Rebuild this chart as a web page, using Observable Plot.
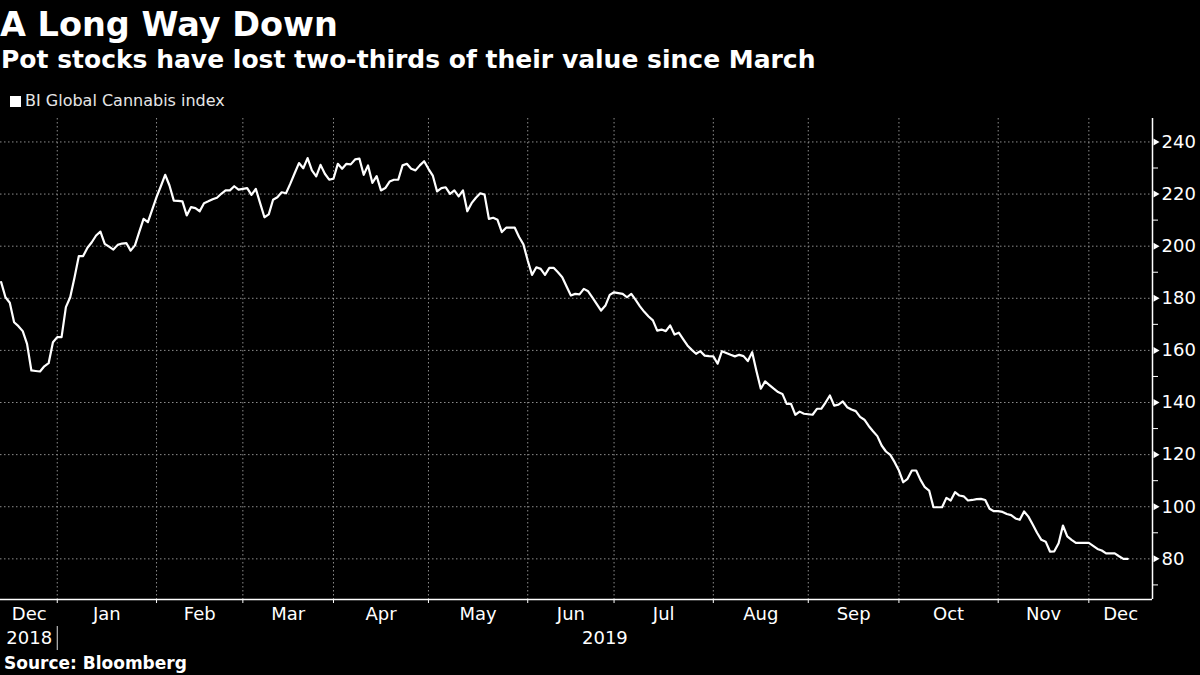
<!DOCTYPE html>
<html>
<head>
<meta charset="utf-8">
<script src="https://cdn.jsdelivr.net/npm/d3@7"></script>
<script src="https://cdn.jsdelivr.net/npm/@observablehq/plot@0.6"></script>
<style>
  html, body { margin: 0; padding: 0; background: #000; }
  #wrap { position: relative; width: 1200px; height: 675px; overflow: hidden; background: #000; color: #fff; font-family: "DejaVu Sans", sans-serif; }
  #title { position: absolute; left: 0px; top: 8px; font-size: 33.5px; line-height: 33.5px; font-weight: 700; white-space: nowrap; }
  #subtitle { position: absolute; left: 1px; top: 47px; font-size: 25px; line-height: 25px; font-weight: 700; white-space: nowrap; }
  #legend { position: absolute; left: 10px; top: 93px; font-size: 16px; line-height: 16px; color: #e6e6e6; white-space: nowrap; }
  #legend .sw { display: inline-block; width: 11px; height: 11px; background: #fff; margin-right: 4px; vertical-align: -1px; }
  #chart { position: absolute; left: 0; top: 112px; }
  #source { position: absolute; left: 4px; top: 655px; font-size: 17px; line-height: 17px; font-weight: 700; white-space: nowrap; }
</style>
</head>
<body>
<div id="wrap">
  <div id="title">A Long Way Down</div>
  <div id="subtitle">Pot stocks have lost two-thirds of their value since March</div>
  <div id="legend"><span class="sw"></span><span id="legendText"></span></div>
  <div id="chart"></div>
  <div id="source">Source: Bloomberg</div>
</div>
<script>
// ---- data ----
const startDate = "2018-12-13";            // first trading session shown
const seriesName = "BI Global Cannabis index";
// index level, one value per trading session (weekdays) from startDate
const values = [
  186.2, 180.4, 178.3, 170.8, 169.3, 167.4, 162.5, 152.3, 152.1, 151.9,
  153.9, 155.1, 163.1, 165.1, 165.1, 176.6, 180.4, 188.0, 196.2, 196.2,
  199.4, 201.5, 204.1, 205.6, 200.9, 199.8, 198.7, 200.5, 201.0, 201.2,
  198.3, 200.3, 205.5, 210.5, 209.2, 214.0, 218.8, 223.0, 227.4, 223.3,
  217.5, 217.4, 217.2, 211.8, 215.0, 214.6, 213.4, 216.5, 217.2, 218.0,
  218.6, 220.1, 221.4, 221.4, 223.0, 221.7, 222.0, 222.3, 219.7, 222.0,
  216.5, 211.1, 212.2, 217.8, 218.8, 220.7, 220.3, 224.0, 228.0, 231.9,
  229.9, 233.8, 229.1, 226.8, 231.2, 227.8, 225.5, 225.9, 231.6, 229.7,
  231.6, 231.4, 233.3, 233.6, 227.4, 231.0, 224.3, 226.9, 221.4, 222.3,
  224.8, 225.5, 225.5, 231.0, 231.6, 229.7, 229.1, 231.0, 232.6, 229.7,
  227.1, 221.0, 222.3, 222.6, 220.1, 221.4, 219.1, 221.4, 213.4, 216.5,
  218.6, 220.3, 219.8, 210.5, 210.9, 210.1, 205.4, 207.1, 207.1, 207.1,
  203.5, 200.7, 194.5, 189.0, 191.9, 191.3, 189.0, 191.7, 191.7, 190.0,
  188.1, 184.5, 181.1, 181.7, 181.5, 183.6, 182.7, 180.3, 177.8, 175.3,
  177.2, 181.3, 182.3, 182.0, 181.7, 180.4, 181.7, 179.4, 176.9, 174.8,
  173.0, 171.5, 167.6, 168.0, 167.4, 169.6, 166.1, 166.8, 164.3, 161.9,
  160.2, 158.7, 159.7, 158.0, 157.8, 157.7, 154.9, 159.7, 159.0, 158.3,
  157.7, 158.3, 157.8, 155.9, 159.3, 152.0, 145.3, 148.1, 146.7, 145.3,
  144.0, 143.3, 139.5, 139.5, 135.3, 136.5, 135.7, 135.5, 135.3, 137.6,
  137.6, 140.0, 142.7, 138.8, 139.2, 140.4, 138.2, 137.3, 136.7, 134.5,
  133.4, 131.0, 129.0, 127.1, 123.5, 121.2, 119.9, 117.1, 113.9, 109.4,
  110.7, 113.9, 113.9, 110.3, 107.5, 106.2, 99.8, 99.8, 99.8, 103.4,
  102.4, 105.6, 104.3, 104.0, 102.4, 102.6, 102.9, 103.0, 102.6, 99.2,
  98.3, 98.3, 98.0, 97.2, 96.8, 95.5, 95.0, 98.2, 96.2, 93.2,
  90.0, 87.3, 86.6, 82.8, 82.9, 86.0, 92.8, 88.6, 87.3, 86.1,
  86.1, 86.1, 86.1, 85.0, 83.8, 83.2, 82.1, 82.1, 82.1, 81.0,
  80.0, 80.0
];
const monthNames = ["Jan","Feb","Mar","Apr","May","Jun","Jul","Aug","Sep","Oct","Nov","Dec"];
const yTicks = [80, 100, 120, 140, 160, 180, 200, 220, 240];
const yMinorTicks = [70, 90, 110, 130, 150, 170, 190, 210, 230];
const yDomain = [64.4, 249];
const xEnd = 266.75;   // axis extends a few sessions past the last close

// ---- derive trading-session dates (weekdays) ----
const parse = d3.utcParse("%Y-%m-%d");
let cur = parse(startDate);
const data = values.map((v, i) => {
  const row = {i, date: new Date(cur), value: v};
  do { cur = d3.utcDay.offset(cur, 1); } while (cur.getUTCDay() === 0 || cur.getUTCDay() === 6);
  return row;
});

// month boundaries (first session of each month)
const monthStarts = [];
for (let k = 1; k < data.length; k++) {
  if (data[k].date.getUTCMonth() !== data[k - 1].date.getUTCMonth()) monthStarts.push(k);
}
const bounds = [0, ...monthStarts, xEnd];
const monthSegs = [];
for (let k = 0; k < bounds.length - 1; k++) {
  const d = data[Math.floor(bounds[k])].date;
  monthSegs.push({start: bounds[k], end: bounds[k + 1], label: monthNames[d.getUTCMonth()]});
}
// year segments
const yearStart = monthStarts.find(k => data[k].date.getUTCFullYear() !== data[0].date.getUTCFullYear());
const yearSegs = [
  {start: 0, end: yearStart, label: String(data[0].date.getUTCFullYear())},
  {start: yearStart, end: xEnd, label: String(data[yearStart].date.getUTCFullYear())}
];

document.getElementById("legendText").textContent = seriesName;

const H = 543, MT = 6, MB = 56;
const frameH = H - MT - MB;
const gridStyle = {stroke: "#8c8c8c", strokeOpacity: 1, strokeWidth: 1, strokeDasharray: "1.5,2.5"};

const chart = Plot.plot({
  width: 1200,
  height: H,
  marginTop: MT,
  marginBottom: MB,
  marginLeft: 0,
  marginRight: 48,
  style: {background: "#000", color: "#fff", fontFamily: "'DejaVu Sans', sans-serif", fontSize: "18px"},
  x: {domain: [-0.15, xEnd], axis: null},
  y: {domain: yDomain, axis: null},
  marks: [
    Plot.gridY(yTicks, gridStyle),
    Plot.ruleX(monthStarts, gridStyle),
    Plot.line(data, {x: "i", y: "value", stroke: "#fff", strokeWidth: 2.2, strokeLinejoin: "round"}),
    Plot.ruleY([yDomain[0]], {stroke: "#fff", strokeWidth: 1.5}),
    Plot.ruleX([xEnd], {stroke: "#fff", strokeWidth: 1.5}),
    Plot.axisY(yMinorTicks, {anchor: "right", tickSize: 5, tickFormat: () => "", label: null, stroke: "#fff"}),
    Plot.axisY(yTicks, {anchor: "right", tickSize: 0, tickPadding: 9, tickFormat: d => String(d), label: null, fontSize: 18, fill: "#fff"}),
    Plot.dot(yTicks, {x: () => xEnd, y: d => d, symbol: "triangle", rotate: 90, r: 2.6, fill: "#fff", stroke: "none", dx: 3}),
    Plot.axisX(monthStarts, {anchor: "bottom", tickSize: 4, tickFormat: () => "", label: null, stroke: "#fff"}),
    Plot.text(monthSegs, {x: d => (d.start + d.end) / 2, text: "label", frameAnchor: "bottom", lineAnchor: "middle", dy: 15, fill: "#fff", fontSize: 18}),
    Plot.text(yearSegs, {x: d => (d.start + d.end) / 2, text: "label", frameAnchor: "bottom", lineAnchor: "middle", dy: 39, fill: "#fff", fontSize: 18}),
    Plot.ruleX([yearStart], {stroke: "#ddd", strokeWidth: 1, insetTop: frameH - 24, dy: 51})
  ]
});
document.getElementById("chart").appendChild(chart);
</script>
</body>
</html>
